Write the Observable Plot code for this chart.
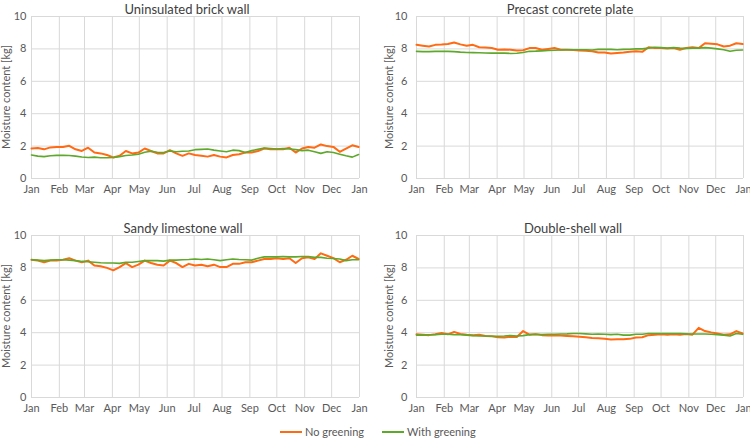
<!DOCTYPE html>
<html>
<head>
<meta charset="utf-8">
<script src="https://cdn.jsdelivr.net/npm/d3@7"></script>
<script src="https://cdn.jsdelivr.net/npm/@observablehq/plot@0.6"></script>
<style>
  html, body { margin: 0; padding: 0; background: #fff; }
  body { width: 750px; height: 438px; position: relative; overflow: hidden; font-family: Lato, "Open Sans", sans-serif; color: #595959; }
  .panel { position: absolute; width: 375px; }
  .panel svg { overflow: visible; }
  .title { position: absolute; font-size: 13px; white-space: nowrap; transform: translate(-50%, -50%); color: #404040; }
  .ylab { position: absolute; font-size: 11px; white-space: nowrap; transform: translate(-50%, -50%) rotate(-90deg); }
  .legend { position: absolute; top: 425px; font-size: 11px; display: flex; align-items: center; white-space: nowrap; }
  .legend .sw { display: inline-block; width: 22px; height: 2px; margin-right: 3px; }
</style>
</head>
<body>
<script>
// ---- data (weekly readings, week 0 = 1 Jan) ----
const monthLabels = ["Jan","Feb","Mar","Apr","May","Jun","Jul","Aug","Sep","Oct","Nov","Dec","Jan"];
const seriesNames = ["No greening", "With greening"];
const panelTitles = ["Uninsulated brick wall", "Precast concrete plate", "Sandy limestone wall", "Double-shell wall"];
const yTicks = [0, 2, 4, 6, 8, 10];

const brickNo = [1.85,1.88,1.8,1.92,1.95,1.95,2.02,1.8,1.7,1.9,1.6,1.55,1.45,1.3,1.4,1.7,1.55,1.6,1.85,1.7,1.55,1.55,1.75,1.55,1.4,1.55,1.45,1.4,1.35,1.45,1.35,1.3,1.45,1.5,1.6,1.6,1.7,1.85,1.8,1.8,1.8,1.9,1.6,1.85,1.95,1.9,2.1,2.0,1.95,1.65,1.85,2.05,1.95];
const brickWith = [1.45,1.38,1.35,1.4,1.43,1.43,1.42,1.38,1.33,1.3,1.32,1.28,1.28,1.3,1.35,1.42,1.45,1.5,1.62,1.68,1.62,1.6,1.7,1.65,1.68,1.7,1.78,1.8,1.82,1.75,1.7,1.65,1.75,1.72,1.6,1.72,1.8,1.88,1.85,1.82,1.85,1.82,1.78,1.72,1.75,1.65,1.55,1.65,1.6,1.5,1.4,1.32,1.48];

const concreteNo = [8.25,8.2,8.15,8.25,8.27,8.3,8.4,8.28,8.2,8.25,8.1,8.08,8.05,7.95,7.97,7.95,7.9,7.92,8.05,8.05,7.95,8.0,8.05,7.95,7.95,7.93,7.9,7.88,7.85,7.78,7.78,7.72,7.75,7.78,7.82,7.85,7.82,8.1,8.05,8.05,8.02,8.05,7.95,8.05,8.1,8.05,8.35,8.32,8.28,8.15,8.2,8.35,8.3];
const concreteWith = [7.85,7.83,7.83,7.85,7.85,7.85,7.83,7.8,7.78,7.77,7.76,7.75,7.74,7.75,7.74,7.72,7.73,7.78,7.85,7.86,7.88,7.9,7.92,7.93,7.95,7.95,7.95,7.95,7.93,7.97,7.97,7.97,7.95,7.97,7.98,8.0,8.0,8.05,8.1,8.08,8.05,8.08,8.05,8.03,8.05,8.05,8.08,8.05,8.0,7.95,7.85,7.92,7.93];

const limestoneNo = [8.5,8.45,8.35,8.45,8.45,8.5,8.6,8.45,8.35,8.45,8.15,8.1,8.0,7.85,8.05,8.3,8.05,8.2,8.45,8.3,8.2,8.15,8.45,8.3,8.05,8.25,8.15,8.2,8.1,8.2,8.05,8.05,8.25,8.25,8.35,8.35,8.45,8.55,8.55,8.6,8.55,8.6,8.3,8.6,8.65,8.55,8.9,8.75,8.6,8.35,8.5,8.75,8.55];
const limestoneWith = [8.5,8.48,8.45,8.48,8.5,8.5,8.48,8.45,8.4,8.38,8.35,8.32,8.3,8.3,8.28,8.35,8.35,8.4,8.45,8.45,8.45,8.42,8.48,8.48,8.5,8.52,8.55,8.52,8.55,8.5,8.45,8.5,8.55,8.52,8.5,8.48,8.6,8.68,8.68,8.68,8.7,8.68,8.68,8.7,8.7,8.65,8.65,8.6,8.58,8.55,8.45,8.5,8.5];

const doubleNo = [3.9,3.88,3.85,3.9,3.98,3.9,4.05,3.92,3.88,3.85,3.87,3.8,3.78,3.72,3.7,3.75,3.73,4.1,3.88,3.9,3.85,3.82,3.85,3.82,3.8,3.78,3.75,3.72,3.68,3.65,3.62,3.58,3.6,3.6,3.62,3.7,3.72,3.85,3.88,3.9,3.88,3.9,3.88,3.92,3.88,4.3,4.1,4.02,3.95,3.87,3.9,4.1,3.95];
const doubleWith = [3.85,3.85,3.87,3.88,3.9,3.9,3.88,3.87,3.85,3.82,3.8,3.8,3.78,3.78,3.8,3.83,3.8,3.82,3.88,3.9,3.88,3.9,3.9,3.92,3.93,3.95,3.95,3.93,3.9,3.92,3.9,3.88,3.9,3.85,3.85,3.9,3.9,3.95,3.95,3.95,3.95,3.95,3.95,3.93,3.92,3.92,3.92,3.9,3.88,3.85,3.8,3.95,3.9];

const colors = ["#FF6A13", "#5EA82A"];

// ---- build ----
const start = new Date(Date.UTC(2021, 0, 1));
const end = new Date(Date.UTC(2022, 0, 1));
const monthTicks = d3.utcMonth.range(start, d3.utcDay.offset(end, 1));
const dateOf = i => d3.utcDay.offset(start, 7 * i);
const toRows = arr => arr.map((v, i) => ({date: dateOf(i), value: v}));

const panels = [
  {title: panelTitles[0], no: brickNo, with: brickWith, left: 0, top: 0, ml: 31, mr: 16, pad: 5, tx: 187, ty: 6, lx: 5},
  {title: panelTitles[1], no: concreteNo, with: concreteWith, left: 375, top: 0, ml: 41, mr: 7, pad: 9, tx: 570, ty: 6, lx: 388},
  {title: panelTitles[2], no: limestoneNo, with: limestoneWith, left: 0, top: 219, ml: 31, mr: 16, pad: 5, tx: 183, ty: 225, lx: 5},
  {title: panelTitles[3], no: doubleNo, with: doubleWith, left: 375, top: 219, ml: 41, mr: 7, pad: 9, tx: 573, ty: 225, lx: 388}
];

for (const p of panels) {
  const chart = Plot.plot({
    width: 375,
    height: 200,
    marginLeft: p.ml,
    marginRight: p.mr,
    marginTop: 16,
    marginBottom: 22,
    style: {fontFamily: "Lato, 'Open Sans', sans-serif", fontSize: "11px", color: "#595959", background: "transparent", overflow: "visible"},
    x: {type: "utc", domain: [start, end], axis: null},
    y: {domain: [0, 10], axis: null},
    marks: [
      Plot.gridY(yTicks, {stroke: "#d9d9d9", strokeOpacity: 1}),
      Plot.gridX(monthTicks, {stroke: "#d9d9d9", strokeOpacity: 1}),
      Plot.axisY(yTicks, {tickSize: 0, tickPadding: p.pad, fontSize: 11, label: null}),
      Plot.axisX(monthTicks, {tickSize: 0, tickPadding: 7, fontSize: 11, label: null,
        tickFormat: (d, i) => monthLabels[i]}),
      Plot.line(toRows(p.no), {x: "date", y: "value", stroke: colors[0], strokeWidth: 2}),
      Plot.line(toRows(p.with), {x: "date", y: "value", stroke: colors[1], strokeWidth: 1.6})
    ]
  });
  const wrap = document.createElement("div");
  wrap.className = "panel";
  wrap.style.left = p.left + "px";
  wrap.style.top = p.top + "px";
  wrap.appendChild(chart);
  document.body.appendChild(wrap);

  const t = document.createElement("div");
  t.className = "title";
  t.style.left = p.tx + "px";
  t.style.top = (p.ty + 3) + "px";
  t.textContent = p.title;
  document.body.appendChild(t);

  const yl = document.createElement("div");
  yl.className = "ylab";
  yl.style.left = p.lx + "px";
  yl.style.top = (p.top + 16 + 81) + "px";
  yl.textContent = "Moisture content [kg]";
  document.body.appendChild(yl);
}

// legend
const legendXs = [280, 382];
seriesNames.forEach((name, k) => {
  const lg = document.createElement("div");
  lg.className = "legend";
  lg.style.left = legendXs[k] + "px";
  const sw = document.createElement("span");
  sw.className = "sw";
  sw.style.background = colors[k];
  lg.appendChild(sw);
  lg.appendChild(document.createTextNode(name));
  document.body.appendChild(lg);
});
</script>
</body>
</html>
